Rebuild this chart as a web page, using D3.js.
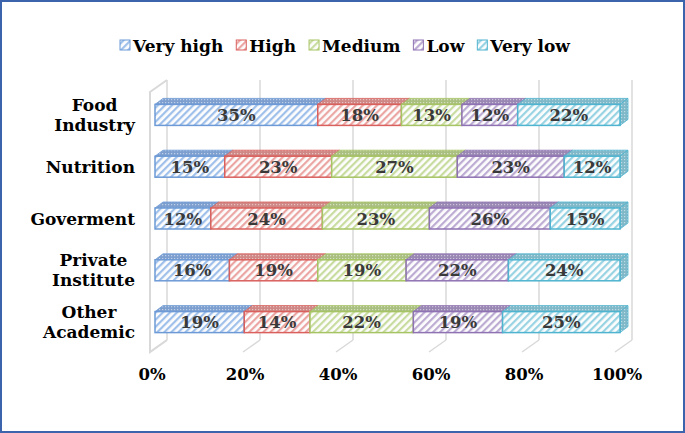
<!DOCTYPE html>
<html>
<head>
<meta charset="utf-8">
<script src="https://cdn.jsdelivr.net/npm/d3@7"></script>
<style>
  body { margin: 0; background: #fff; }
  svg { display: block; }
  text { font-family: "DejaVu Serif", Georgia, serif; font-weight: bold; }
</style>
</head>
<body>
<div class="chart"></div>
<script>
// data
const categories = ['Food Industry', 'Nutrition', 'Goverment', 'Private Institute', 'Other Academic']
const levels = ['Very high', 'High', 'Medium', 'Low', 'Very low']
const veryHigh = [35, 15, 12, 16, 19]
const high = [18, 23, 24, 19, 14]
const medium = [13, 27, 23, 19, 22]
const low = [12, 23, 26, 22, 19]
const veryLow = [22, 12, 15, 24, 25]
const ticks = [0, 0.2, 0.4, 0.6, 0.8, 1]

const labelLines = {
    'Food Industry': ['Food', 'Industry'],
    'Private Institute': ['Private', 'Institute'],
    'Other Academic': ['Other', 'Academic']
}

// colours: stroke, stripe, top face
const palette = [
    { stroke: '#6d9ad6', stripe: '#9fc0ea', top: '#7d9fcf' },
    { stroke: '#d9605c', stripe: '#eba6a4', top: '#cf8886' },
    { stroke: '#a6c463', stripe: '#c9dc9f', top: '#a9bf80' },
    { stroke: '#8f72b3', stripe: '#bcabd3', top: '#9a88b4' },
    { stroke: '#4fb4cf', stripe: '#98d3e3', top: '#7fb8c8' }
]

const width = 685
const height = 433

const svg = d3.select('.chart').append('svg')
    .attr('width', width)
    .attr('height', height)

const defs = svg.append('defs')
palette.forEach((c, i) => {
    const p = defs.append('pattern')
        .attr('id', 'hatch' + i)
        .attr('patternUnits', 'userSpaceOnUse')
        .attr('width', 5).attr('height', 5)
        .attr('patternTransform', 'rotate(45)')
    p.append('rect').attr('width', 5).attr('height', 5).attr('fill', '#fdfdfd')
    p.append('rect').attr('width', 2.2).attr('height', 5).attr('fill', c.stripe)

    const t = defs.append('pattern')
        .attr('id', 'top' + i)
        .attr('patternUnits', 'userSpaceOnUse')
        .attr('width', 3).attr('height', 3)
    t.append('rect').attr('width', 3).attr('height', 3).attr('fill', c.top)
    t.append('rect').attr('width', 1.2).attr('height', 1.2).attr('fill', '#fff').attr('opacity', 0.5)
})

// outer frame
svg.append('rect')
    .attr('x', 1).attr('y', 1)
    .attr('width', width - 2).attr('height', height - 2)
    .attr('fill', 'none')
    .attr('stroke', '#3b64ad')
    .attr('stroke-width', 2)

// scales
const x = d3.scaleLinear().domain([0, 1]).range([150, 615])
const y = d3.scalePoint().domain(categories).range([89, 348]).padding(0.5)

const wallDx = 17, wallDy = -12
const floorY = 352
const topY = 92
const barDx = 8, barDy = -6
const barOff = 5 // bars sit a bit behind the front plane
const barH = 21

const grid = svg.append('g')
    .attr('stroke', '#d9d9d9')
    .attr('stroke-width', 1.5)
    .attr('fill', 'none')

// back wall gridlines
grid.selectAll('.gl')
    .data(ticks)
    .join('line')
    .attr('x1', d => x(d) + wallDx).attr('x2', d => x(d) + wallDx)
    .attr('y1', floorY + wallDy).attr('y2', topY + wallDy)

// floor diagonals
grid.selectAll('.fl')
    .data(ticks)
    .join('line')
    .attr('x1', d => x(d)).attr('y1', floorY)
    .attr('x2', d => x(d) + wallDx).attr('y2', floorY + wallDy)

// left side wall
grid.append('path')
    .attr('stroke-width', 2)
    .attr('d', `M${x(0) + wallDx},${topY + wallDy} L${x(0)},${topY} L${x(0)},${floorY} L${x(0) + wallDx},${floorY + wallDy}`)

// stacked data
const series = [veryHigh, high, medium, low, veryLow]
const rows = categories.map((c, i) => {
    const vals = series.map(s => s[i])
    const total = d3.sum(vals)
    let acc = 0
    return vals.map((v, k) => {
        const seg = { cat: c, k, v, x0: acc / total, x1: (acc + v) / total }
        acc += v
        return seg
    })
})

const bars = svg.append('g')
rows.forEach(row => {
    const g = bars.append('g')
    row.forEach((s, idx) => {
        const x0 = x(s.x0) + barOff, x1 = x(s.x1) + barOff
        const y0 = y(s.cat) - barH / 2, y1 = y0 + barH
        const c = palette[s.k]
        // top face
        g.append('path')
            .attr('d', `M${x0},${y0} L${x0 + barDx},${y0 + barDy} L${x1 + barDx},${y0 + barDy} L${x1},${y0} Z`)
            .attr('fill', `url(#top${s.k})`)
            .attr('stroke', c.stroke)
            .attr('stroke-width', 0.8)
        if (idx === row.length - 1) {
            g.append('path')
                .attr('d', `M${x1},${y0} L${x1 + barDx},${y0 + barDy} L${x1 + barDx},${y1 + barDy} L${x1},${y1} Z`)
                .attr('fill', `url(#top${s.k})`)
                .attr('stroke', c.stroke)
                .attr('stroke-width', 0.8)
        }
        g.append('rect')
            .attr('x', x0).attr('y', y0)
            .attr('width', x1 - x0).attr('height', barH)
            .attr('fill', `url(#hatch${s.k})`)
            .attr('stroke', c.stroke)
            .attr('stroke-width', 1.5)
        g.append('text')
            .attr('x', (x0 + x1) / 2)
            .attr('y', y0 + barH / 2 + 6)
            .attr('text-anchor', 'middle')
            .attr('font-size', 16.5)
            .attr('fill', '#3a3a3a')
            .text(s.v + '%')
    })
})

// x axis labels
svg.append('g').selectAll('text')
    .data(ticks)
    .join('text')
    .attr('x', d => x(d) + 2)
    .attr('y', 380)
    .attr('text-anchor', 'middle')
    .attr('font-size', 16.5)
    .attr('fill', '#000')
    .text(d => d3.format('.0%')(d))

// category labels
const catG = svg.append('g')
categories.forEach(c => {
    const lines = labelLines[c] || [c]
    const t = catG.append('text')
        .attr('font-size', 17)
        .attr('fill', '#000')
        .attr('text-anchor', 'middle')
    lines.forEach((l, i) => {
        t.append('tspan')
            .attr('x', 0)
            .attr('dy', i === 0 ? 0 : 20)
            .text(l)
    })
    const w = d3.max(t.selectAll('tspan').nodes(), n => n.getComputedTextLength())
    const cy = y(c) + 6 - (lines.length - 1) * 20 / 2
    t.attr('transform', `translate(${135 - w / 2},${cy})`)
})

// legend
const legend = svg.append('g')
let lx = 120
levels.forEach((l, i) => {
    const g = legend.append('g').attr('transform', `translate(${lx},0)`)
    g.append('rect')
        .attr('x', 0).attr('y', 40)
        .attr('width', 10).attr('height', 10)
        .attr('fill', `url(#hatch${i})`)
        .attr('stroke', palette[i].stroke)
        .attr('stroke-width', 1)
    const t = g.append('text')
        .attr('x', 13).attr('y', 52)
        .attr('font-size', 17)
        .attr('fill', '#000')
        .text(l)
    lx += 13 + t.node().getComputedTextLength() + 13
})
</script>
</body>
</html>
